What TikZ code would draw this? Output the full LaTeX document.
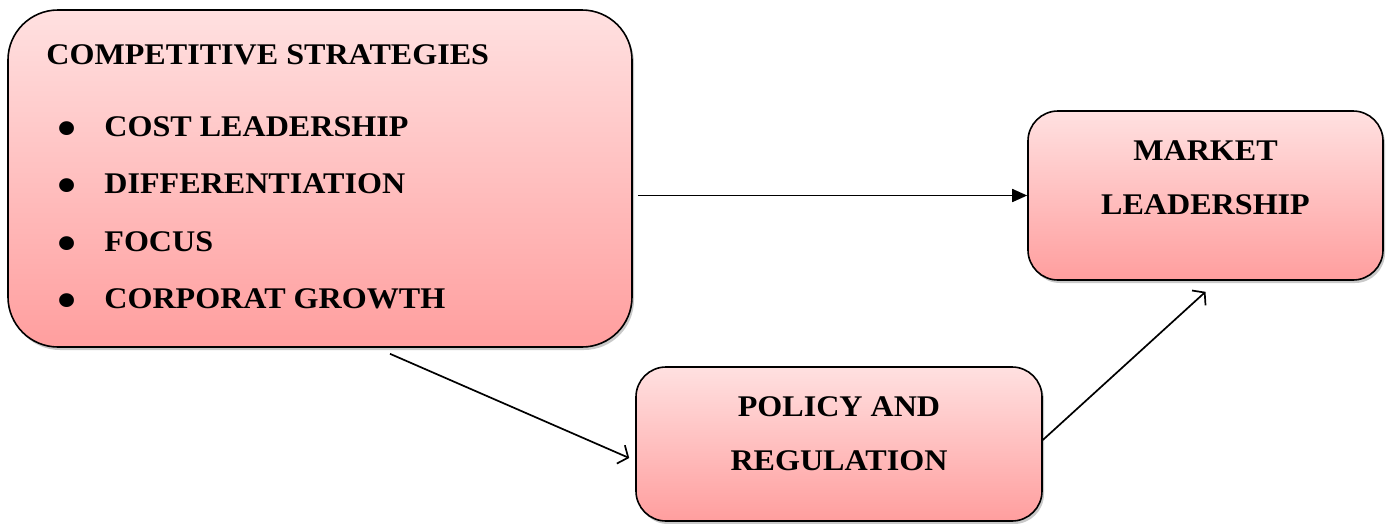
\documentclass[tikz,border=0pt]{standalone}
\usepackage{fontspec}
\setmainfont[FakeStretch=1.07]{Liberation Serif}
\usetikzlibrary{positioning, shadows, arrows.meta}

\newcommand{\dotmark}{\makebox[47pt][l]{\raisebox{-9pt}{\scalebox{1.7}{\textbullet}}}}

\tikzset{
  box/.style={draw, line width=1.6pt, top color=red!12, bottom color=red!38,
    drop shadow={shadow xshift=2pt, shadow yshift=-3pt, opacity=0.3, fill=black!70}},
  txt/.style={font=\fontsize{30}{54}\selectfont\bfseries, inner sep=0pt},
  item/.style={txt, text height=20pt, text depth=0pt},
  link/.style={line width=1.7pt}
}

\begin{document}
\begin{tikzpicture}[x=1pt,y=-1pt]
\useasboundingbox (0,0) rectangle (1390,523);

% boxes
\node (strat) [box, rounded corners=50pt, minimum width=624pt, minimum height=337pt] at (320,178.5) {};
\node (market) [box, rounded corners=30pt, minimum width=355pt, minimum height=169pt] at (1205.5,195.5) {};
\node (policy) [box, rounded corners=30pt, minimum width=406pt, minimum height=154pt] at (839,444) {};

% strategy list
\node (title) [item, below right=35pt and 39pt of strat.north west] {COMPETITIVE STRATEGIES};
\node (cost) [item, below right=107pt and 50pt of strat.north west] {\dotmark COST LEADERSHIP};
\node (diff) [item, below right=37pt and 0pt of cost.south west] {\dotmark DIFFERENTIATION};
\node (focus) [item, below right=37pt and 0pt of diff.south west] {\dotmark FOCUS};
\node (growth) [item, below right=37pt and 0pt of focus.south west] {\dotmark CORPORAT GROWTH};

% box labels
\node (mkttext) [txt, align=center] at ([yshift=18pt]market.center) {MARKET\\LEADERSHIP};
\node (poltext) [txt, align=center] at ([yshift=10.5pt]policy.center) {POLICY AND\\REGULATION};

% connectors
\draw [link, -{Triangle[length=15pt, width=13pt]}] ([xshift=5pt]strat.east |- market.west) -- (market.west);
\draw [link, -{Straight Barb[length=8pt, width=20pt]}] ([xshift=70pt, yshift=-6pt]strat.south) -- ([xshift=-6pt, yshift=-14pt]policy.west);
\draw [link, -{Straight Barb[length=8pt, width=20pt]}] ([yshift=4pt]policy.east) -- ([yshift=-11pt]market.south);
\end{tikzpicture}
\end{document}
